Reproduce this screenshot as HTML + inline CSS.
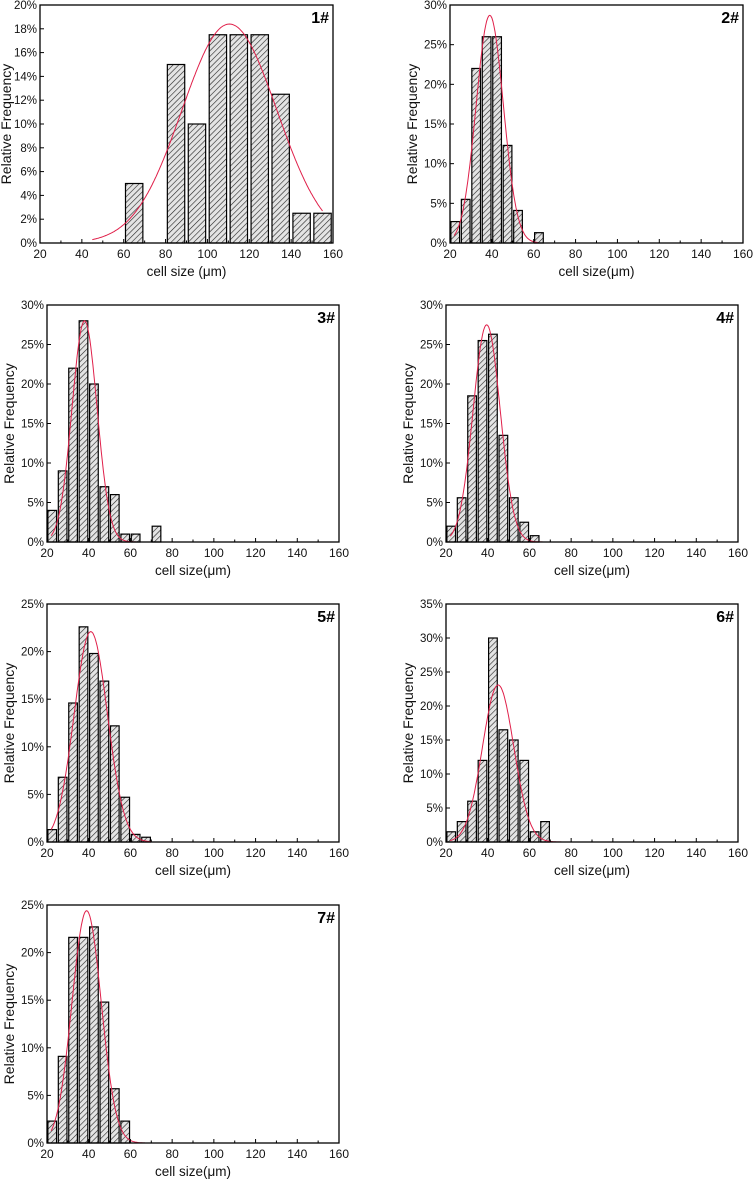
<!DOCTYPE html>
<html><head><meta charset="utf-8">
<style>
html,body{margin:0;padding:0;background:#fff;}
svg{display:block;font-family:"Liberation Sans",Arial,sans-serif;}
</style></head>
<body>
<svg id="chart" width="753" height="1181" viewBox="0 0 753 1181">
<defs>
<pattern id="hatch" patternUnits="userSpaceOnUse" width="4" height="4" patternTransform="rotate(45)">
<rect width="4" height="4" fill="#e4e4e4"/>
<line x1="0" y1="0" x2="0" y2="4" stroke="#222" stroke-width="1.2"/>
</pattern>
</defs>
</svg>
<script>
// ---- data ----
const bins1 = [65,85,95,105,115,125,135,145,155];
const freq1 = [5,15,10,17.5,17.5,17.5,12.5,2.5,2.5];
const bins2 = [22.5,27.5,32.5,37.5,42.5,47.5,52.5,57.5,62.5];
const freq2 = [2.7,5.5,22,26,26,12.3,4.1,0,1.3];
const bins3 = [22.5,27.5,32.5,37.5,42.5,47.5,52.5,57.5,62.5,67.5,72.5];
const freq3 = [4,9,22,28,20,7,6,1,1,0,2];
const bins4 = [22.5,27.5,32.5,37.5,42.5,47.5,52.5,57.5,62.5];
const freq4 = [2,5.6,18.5,25.5,26.3,13.5,5.6,2.5,0.8];
const bins5 = [22.5,27.5,32.5,37.5,42.5,47.5,52.5,57.5,62.5,67.5];
const freq5 = [1.3,6.8,14.6,22.6,19.8,16.9,12.2,4.7,0.8,0.5];
const bins6 = [22.5,27.5,32.5,37.5,42.5,47.5,52.5,57.5,62.5,67.5];
const freq6 = [1.5,3,6,12,30,16.5,15,12,1.5,3];
const bins7 = [22.5,27.5,32.5,37.5,42.5,47.5,52.5,57.5];
const freq7 = [2.3,9.1,21.6,21.6,22.7,14.8,5.7,2.3];
const panelLabels = ["1#","2#","3#","4#","5#","6#","7#"];
const yMaxes = [20,30,30,30,25,35,25];
const yStepsArr = [2,5,5,5,5,5,5];
const fitMeans = [110.5,39,38,39.5,41,45,39];
const fitPeaks = [18.4,28.7,28,27.5,22.1,23.1,24.4];
const fitSigmas = [22.7,6.5,6,6.5,8,7.5,7];
const fitStarts = [45,22,22,22,22,22,22];
const fitEnds = [155,62,157,157,70,157,67];
const xTickLabels = [20,40,60,80,100,120,140,160];
const xTitles = ["cell size (\u03bcm)","cell size(\u03bcm)","cell size(\u03bcm)","cell size(\u03bcm)","cell size(\u03bcm)","cell size(\u03bcm)","cell size(\u03bcm)"];

// ---- layout ----
const frames = [
 {x0:40,x1:333,y0:5,y1:243,bw:10},
 {x0:450,x1:743,y0:5,y1:243,bw:5},
 {x0:47,x1:339,y0:305,y1:542,bw:5},
 {x0:446,x1:738,y0:305,y1:542,bw:5},
 {x0:47,x1:339,y0:604,y1:842,bw:5},
 {x0:446,x1:738,y0:604,y1:842,bw:5},
 {x0:47,x1:339,y0:905,y1:1143,bw:5}
];
const allBins=[bins1,bins2,bins3,bins4,bins5,bins6,bins7];
const allFreq=[freq1,freq2,freq3,freq4,freq5,freq6,freq7];
const svg=document.getElementById('chart');
const NS='http://www.w3.org/2000/svg';
function mk(tag,attrs,parent){const e=document.createElementNS(NS,tag);for(const k in attrs)e.setAttribute(k,attrs[k]);(parent||svg).appendChild(e);return e;}

frames.forEach((f,i)=>{
  const g=mk('g',{});
  
  
  const X=v=>f.x0+(v-20)/140*(f.x1-f.x0);
  const Y=v=>f.y1-v/yMaxes[i]*(f.y1-f.y0);
  allBins[i].forEach((c,j)=>{
    const v=allFreq[i][j]; if(v<=0) return;
    const w=(X(c+f.bw/2)-X(c-f.bw/2))*0.83;
    const r=mk('rect',{x:X(c)-w/2,y:Y(v),width:w,height:Y(0)-Y(v),fill:'url(#hatch)',stroke:'#000','stroke-width':1.2},g);
    
    
  });
  let d='';
  for(let x=fitStarts[i];x<=fitEnds[i]+0.01;x+=0.5){
    const y=fitPeaks[i]*Math.exp(-Math.pow(x-fitMeans[i],2)/(2*fitSigmas[i]*fitSigmas[i]));
    d+=(d?'L':'M')+X(x).toFixed(1)+','+Y(y).toFixed(1);
  }
  const p=mk('path',{d:d,fill:'none',stroke:'#e0204a','stroke-width':1},g);
  
  
  const fr=mk('rect',{x:f.x0,y:f.y0,width:f.x1-f.x0,height:f.y1-f.y0,fill:'none',stroke:'#000','stroke-width':1.3},g);
  
  
  for(let v=20;v<=160;v+=10){
    const maj=(v%20===0);
    mk('line',{x1:X(v),x2:X(v),y1:f.y1,y2:f.y1-(maj?4:2.5),stroke:'#000','stroke-width':1},g);
  }
  xTickLabels.forEach(v=>{
    const t=mk('text',{x:X(v),y:f.y1+15,'font-size':12,'text-anchor':'middle',fill:'#111'},g);
    t.textContent=v;
    
    
  });
  for(let v=0;v<=yMaxes[i]+0.001;v+=yStepsArr[i]){
    mk('line',{x1:f.x0,x2:f.x0+4,y1:Y(v),y2:Y(v),stroke:'#000','stroke-width':1},g);
    const t=mk('text',{x:f.x0-3,y:Y(v)+4,'font-size':11.5,'text-anchor':'end',fill:'#111'},g);
    t.textContent=v+'%';
    
    
  }
  const xt=mk('text',{x:(f.x0+f.x1)/2,y:f.y1+33,'font-size':13.5,'text-anchor':'middle',fill:'#111'},g);
  xt.textContent=xTitles[i];
  
  
  const cy=(f.y0+f.y1)/2, cx=f.x0-(i===0?29:33);
  const yt=mk('text',{x:cx,y:cy,'font-size':14,'text-anchor':'middle',fill:'#111',transform:'rotate(-90 '+cx+' '+cy+')'},g);
  yt.textContent='Relative Frequency';
  
  
  const pl=mk('text',{x:f.x1-4,y:f.y0+18,'font-size':16,'text-anchor':'end','font-weight':'bold',fill:'#000'},g);
  pl.textContent=panelLabels[i];
  
  
});
</script>
</body></html>
